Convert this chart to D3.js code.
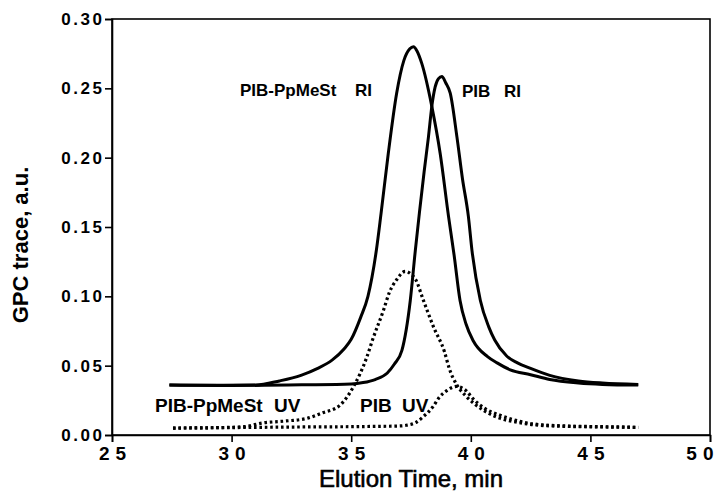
<!DOCTYPE html>
<html><head><meta charset="utf-8">
<script src="https://cdn.jsdelivr.net/npm/d3@7"></script>
<style>
body{margin:0;background:#fff;}
svg{display:block;font-family:"Liberation Sans",Arial,Helvetica,sans-serif;}
</style></head>
<body>
<svg id="chart" width="715" height="492"></svg>
<script>
// ---- data ----
const xTicks = [25, 30, 35, 40, 45, 50];
const yTicks = [0.00, 0.05, 0.10, 0.15, 0.20, 0.25, 0.30];

const ppRI_x = [27.4, 29.0, 31.0, 32.0, 32.9, 33.6, 34.2, 34.7, 35.0, 35.4, 35.7, 36.05, 36.25, 36.55, 36.9, 37.2, 37.45, 37.6, 37.75, 37.95, 38.37, 38.72, 39.07, 39.3, 39.55, 39.8, 40.1, 40.7, 41.1, 41.65, 42.5, 43.3, 44.5, 45.5, 47.0];
const ppRI_y = [0.036, 0.0358, 0.036, 0.039, 0.043, 0.048, 0.054, 0.062, 0.069, 0.085, 0.100, 0.133, 0.160, 0.203, 0.2465, 0.270, 0.2785, 0.280, 0.277, 0.268, 0.237, 0.203, 0.1575, 0.130, 0.097, 0.080, 0.068, 0.0565, 0.052, 0.047, 0.0435, 0.040, 0.0375, 0.0365, 0.036];

const pibRI_x = [27.4, 30.0, 33.0, 35.0, 35.5, 36.0, 36.5, 36.8, 37.12, 37.47, 37.68, 37.85, 38.05, 38.23, 38.37, 38.51, 38.65, 38.79, 38.95, 39.14, 39.42, 39.65, 39.9, 40.05, 40.4, 40.75, 41.0, 41.5, 41.95, 42.5, 43.3, 44.5, 45.5, 47.0];
const pibRI_y = [0.036, 0.0357, 0.0362, 0.0368, 0.0378, 0.040, 0.0445, 0.051, 0.061, 0.097, 0.133, 0.160, 0.190, 0.215, 0.237, 0.251, 0.257, 0.2585, 0.254, 0.2465, 0.215, 0.185, 0.1575, 0.133, 0.097, 0.078, 0.0685, 0.057, 0.052, 0.048, 0.043, 0.039, 0.0375, 0.0365];

const ppUV_x = [27.55, 29.0, 30.5, 31.3, 32.2, 33.15, 33.8, 34.5, 35.1, 35.65, 35.9, 36.35, 36.6, 36.9, 37.26, 37.5, 37.7, 38.0, 38.44, 38.9, 39.1, 39.42, 39.8, 40.12, 40.6, 41.23, 42.0, 42.6, 44.0, 45.5, 47.0];
const ppUV_y = [0.005, 0.0052, 0.006, 0.0087, 0.010, 0.012, 0.016, 0.021, 0.035, 0.056, 0.069, 0.090, 0.103, 0.112, 0.118, 0.116, 0.112, 0.098, 0.078, 0.060, 0.048, 0.036, 0.028, 0.0229, 0.017, 0.012, 0.009, 0.0074, 0.0062, 0.0058, 0.0055];

const pibUV_x = [27.55, 29.0, 31.0, 33.0, 35.0, 36.0, 37.0, 37.3, 37.7, 38.0, 38.4, 38.7, 39.0, 39.4, 39.8, 40.1, 40.6, 41.2, 41.8, 42.6, 44.0, 45.5, 47.0];
const pibUV_y = [0.005, 0.0052, 0.0055, 0.0058, 0.006, 0.0062, 0.0065, 0.007, 0.009, 0.013, 0.020, 0.0276, 0.032, 0.035, 0.032, 0.026, 0.019, 0.0144, 0.011, 0.008, 0.0065, 0.006, 0.0055];

// label text: [polymer, detector]
const labelParts = [["PIB-PpMeSt", "RI"], ["PIB", "RI"], ["PIB-PpMeSt", "UV"], ["PIB", "UV"]];

// ---- layout ----
const W = 715, H = 492;
const m = {left: 112, right: 5, top: 19, bottom: 57};
const svg = d3.select("#chart");
const x = d3.scaleLinear().domain([25, 50]).range([m.left, W - m.right]);
const y = d3.scaleLinear().domain([0, 0.30]).range([H - m.bottom, m.top]);

// frame
svg.append("rect").attr("x", x(25)).attr("y", y(0.30))
  .attr("width", x(50) - x(25)).attr("height", y(0) - y(0.30))
  .attr("fill", "none").attr("stroke", "#000").attr("stroke-width", 1.6);

const xAxis = svg.append("g").attr("transform", `translate(0,${y(0)})`)
  .call(d3.axisBottom(x).tickValues(xTicks).tickSize(7).tickPadding(5).tickFormat(d3.format("d")));
const yAxis = svg.append("g").attr("transform", `translate(${x(25)},0)`)
  .call(d3.axisLeft(y).tickValues(yTicks).tickSize(7).tickPadding(3).tickFormat(d3.format(".2f")));
[xAxis, yAxis].forEach(g => {
  g.select(".domain").attr("stroke", "#000").attr("stroke-width", 1.6);
  g.selectAll(".tick line").attr("stroke", "#000").attr("stroke-width", 1.6);
});
// spaced-out digits (as in the original typesetting) using per-character tspans
function spaceOut(sel, gap) {
  sel.each(function () {
    const t = d3.select(this);
    const s = t.text();
    t.text(null);
    s.split("").forEach((c, i) => t.append("tspan").attr("dx", i ? gap : 0).text(c));
  });
}
xAxis.selectAll("text").attr("font-size", 19).attr("font-weight", "bold")
  .attr("fill", "#000").attr("font-family", "Liberation Sans, Arial, sans-serif")
  .attr("text-anchor", d => d === 50 ? "end" : "middle")
  .attr("x", d => d === 50 ? 3 : 0);
spaceOut(xAxis.selectAll("text"), 6);
yAxis.selectAll("text").attr("font-size", 17).attr("font-weight", "bold")
  .attr("fill", "#000").attr("font-family", "Liberation Sans, Arial, sans-serif");
spaceOut(yAxis.selectAll("text"), 2.5);

// titles
svg.append("text").attr("x", (x(25) + x(50)) / 2).attr("y", 487)
  .attr("text-anchor", "middle").attr("font-size", 24)
  .attr("stroke", "#000").attr("stroke-width", 0.6).text("Elution Time, min");
svg.append("text").attr("transform", `translate(28,245) rotate(-90)`)
  .attr("text-anchor", "middle").attr("font-size", 22).attr("font-weight", "bold")
  .text("GPC trace, a.u.");

// curves
const line = d3.line().x(d => x(d[0])).y(d => y(d[1])).curve(d3.curveMonotoneX);
const zip = (a, b) => a.map((v, i) => [v, b[i]]);
const solid = {stroke: "#000", width: 3, dash: null};
const dotted = {stroke: "#000", width: 3.2, dash: "2.6,2.8"};
[[zip(ppRI_x, ppRI_y), solid], [zip(pibRI_x, pibRI_y), solid],
 [zip(ppUV_x, ppUV_y), dotted], [zip(pibUV_x, pibUV_y), dotted]].forEach(([d, s]) => {
  svg.append("path").datum(d).attr("d", line).attr("fill", "none")
    .attr("stroke", s.stroke).attr("stroke-width", s.width)
    .attr("stroke-dasharray", s.dash).attr("stroke-linejoin", "round");
});

// labels
const lab = (parts, xx, yy, size, gap) => {
  const t = svg.append("text").attr("x", xx).attr("y", yy)
    .attr("font-size", size).attr("font-weight", "bold").attr("fill", "#000");
  t.append("tspan").text(parts[0]);
  t.append("tspan").attr("dx", gap).text(" " + parts[1]);
};
lab(labelParts[0], 240, 96, 17, 14);
lab(labelParts[1], 462, 97, 17, 9);
lab(labelParts[2], 155, 412, 19, 6);
lab(labelParts[3], 360, 412, 19, 5);
</script>
</body></html>
